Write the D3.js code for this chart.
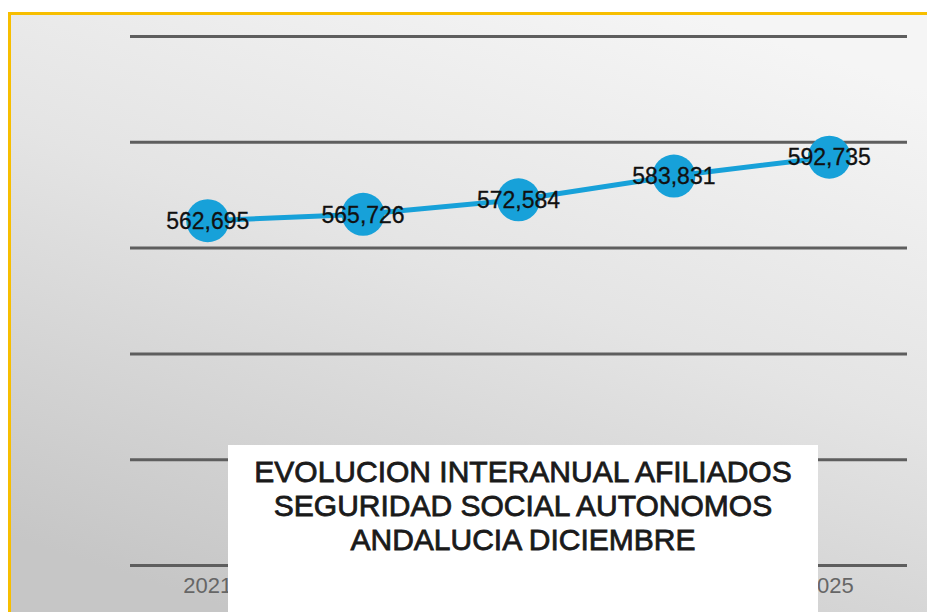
<!DOCTYPE html>
<html>
<head>
<meta charset="utf-8">
<script src="https://cdn.jsdelivr.net/npm/d3@7"></script>
<style>
html,body{margin:0;padding:0;background:#fff;}
svg{display:block;}
</style>
</head>
<body>
<svg id="chart" width="927" height="612"></svg>
<script>
const years = ["2021", "2022", "2023", "2024", "2025"];
const afiliados = [562695, 565726, 572584, 583831, 592735];
const yTicks = [400000, 450000, 500000, 550000, 600000, 650000];
const titleLines = ["EVOLUCION INTERANUAL AFILIADOS", "SEGURIDAD SOCIAL AUTONOMOS", "ANDALUCIA DICIEMBRE"];

const W = 927, H = 612;
const svg = d3.select("#chart");
const defs = svg.append("defs");
const grad = defs.append("linearGradient").attr("id", "bg")
  .attr("x1", "75%").attr("y1", "0%").attr("x2", "25%").attr("y2", "100%");
grad.append("stop").attr("offset", "0%").attr("stop-color", "#f5f5f5");
grad.append("stop").attr("offset", "45%").attr("stop-color", "#e4e4e4");
grad.append("stop").attr("offset", "100%").attr("stop-color", "#c6c6c6");

// frame
svg.append("rect").attr("x", 8).attr("y", 12).attr("width", W - 8).attr("height", H - 12).attr("fill", "#f7be00");
svg.append("rect").attr("x", 11).attr("y", 15).attr("width", W - 11).attr("height", H - 15).attr("fill", "url(#bg)");

const x = d3.scaleBand().domain(years).range([130, 907]);
const y = d3.scaleLinear().domain([400000, 650000]).range([565, 36]);
const cx = d => x(d) + x.bandwidth() / 2;

// gridlines
const yAxis = d3.axisLeft(y).tickValues(yTicks).tickSize(-(907 - 130)).tickFormat("");
const gy = svg.append("g").attr("transform", "translate(130,0)").call(yAxis);
gy.select(".domain").remove();
gy.selectAll(".tick line").attr("stroke", "#5e5e5e").attr("stroke-width", 3);

// x axis labels
const xAxis = d3.axisBottom(x).tickSize(0).tickPadding(0);
const gx = svg.append("g").attr("transform", "translate(0,577)").call(xAxis);
gx.select(".domain").remove();
gx.selectAll(".tick text").attr("font-family", "'Liberation Sans', Arial, sans-serif")
  .attr("font-size", 22).attr("fill", "#666").attr("dy", "0.71em");

// line
const line = d3.line().x((d, i) => cx(years[i])).y(d => y(d));
svg.append("path").datum(afiliados).attr("d", line)
  .attr("fill", "none").attr("stroke", "#17a1d9").attr("stroke-width", 5);

svg.append("g").selectAll("circle").data(afiliados).join("circle")
  .attr("cx", (d, i) => cx(years[i])).attr("cy", d => y(d)).attr("r", 21.5)
  .attr("fill", "#17a1d9");

svg.append("g").selectAll("text").data(afiliados).join("text")
  .attr("x", (d, i) => cx(years[i])).attr("y", d => y(d))
  .attr("dy", "0.36em").attr("text-anchor", "middle")
  .attr("font-family", "'Liberation Sans', Arial, sans-serif").attr("font-size", 23)
  .attr("fill", "#111").attr("stroke", "#111").attr("stroke-width", 0.3)
  .text(d => d3.format(",")(d));

// title box
svg.append("rect").attr("x", 228).attr("y", 445).attr("width", 590).attr("height", H - 445).attr("fill", "#fff");
svg.append("g").selectAll("text").data(titleLines).join("text")
  .attr("x", 523).attr("y", (d, i) => 482 + i * 34)
  .attr("text-anchor", "middle")
  .attr("font-family", "'Liberation Sans', Arial, sans-serif").attr("font-size", 30)
  .attr("fill", "#1a1a1a").attr("stroke", "#1a1a1a").attr("stroke-width", 0.8)
  .text(d => d);
</script>
</body>
</html>
